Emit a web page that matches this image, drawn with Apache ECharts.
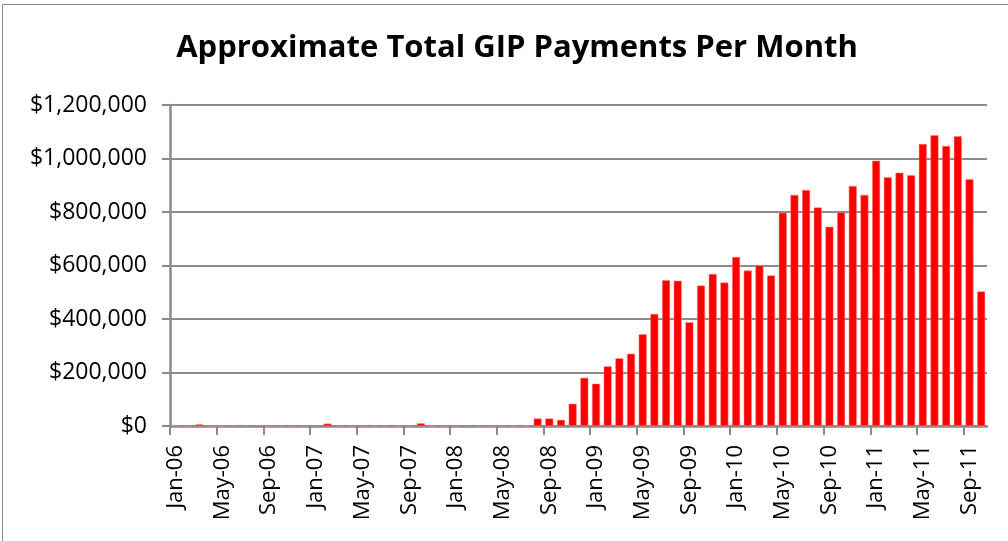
<!DOCTYPE html>
<html>
<head>
<meta charset="utf-8">
<script src="https://cdn.jsdelivr.net/npm/echarts@6/dist/echarts.min.js"></script>
<style>
html,body{margin:0;padding:0;background:#fff;}
#frame{position:absolute;left:2px;top:4px;width:1020px;height:560px;border:1.5px solid #8a8a8a;box-sizing:border-box;}
#chart{position:absolute;left:0;top:0;width:1008px;height:541px;}
</style>
</head>
<body>
<div id="frame"></div>
<div id="chart"></div>
<script>
const titleText = 'Approximate Total GIP Payments Per Month';
const months = [
 'Jan-06','Feb-06','Mar-06','Apr-06','May-06','Jun-06','Jul-06','Aug-06','Sep-06','Oct-06','Nov-06','Dec-06',
 'Jan-07','Feb-07','Mar-07','Apr-07','May-07','Jun-07','Jul-07','Aug-07','Sep-07','Oct-07','Nov-07','Dec-07',
 'Jan-08','Feb-08','Mar-08','Apr-08','May-08','Jun-08','Jul-08','Aug-08','Sep-08','Oct-08','Nov-08','Dec-08',
 'Jan-09','Feb-09','Mar-09','Apr-09','May-09','Jun-09','Jul-09','Aug-09','Sep-09','Oct-09','Nov-09','Dec-09',
 'Jan-10','Feb-10','Mar-10','Apr-10','May-10','Jun-10','Jul-10','Aug-10','Sep-10','Oct-10','Nov-10','Dec-10',
 'Jan-11','Feb-11','Mar-11','Apr-11','May-11','Jun-11','Jul-11','Aug-11','Sep-11','Oct-11'
];
const payments = [
 0,0,6000,0,0,3000,3000,3000,0,0,0,0,
 3000,9000,0,0,0,0,0,0,0,10000,0,0,
 0,3000,0,0,0,0,0,28000,28000,23000,83000,180000,
 158000,223000,253000,270000,343000,419000,545000,543000,388000,525000,568000,536000,
 632000,581000,600000,563000,797000,864000,882000,817000,745000,799000,897000,864000,
 992000,930000,947000,937000,1054000,1087000,1047000,1083000,922000,503000
];
const yTicks = { min: 0, max: 1200000, step: 200000 };
const labelEvery = 4;
const tickPositions = months.map((m, i) => i).filter(i => i % labelEvery === 0);

const chart = echarts.init(document.getElementById('chart'), null, {renderer:'canvas'});
const font = '"Open Sans", "Noto Sans", sans-serif';
chart.setOption({
  animation: false,
  backgroundColor: 'transparent',
  title: {
    text: titleText, left: 512, top: 28, textAlign: 'center',
    textStyle: { fontFamily: font, fontWeight: 'bold', fontSize: 31, color: '#000' }
  },
  grid: { left: 170, right: 21, top: 105, bottom: 115, containLabel: false },
  xAxis: [
    {
      type: 'category', data: months, boundaryGap: true,
      axisLine: { lineStyle: { color: '#8a8a8a', width: 2.5 } },
      axisTick: { show: false },
      axisLabel: { interval: labelEvery - 1, rotate: 90, margin: 19, fontFamily: font, fontSize: 22, color: '#000' },
      splitLine: { show: false }
    },
    {
      type: 'value', position: 'bottom', min: 0, max: months.length, interval: labelEvery,
      axisLine: { show: false }, splitLine: { show: false }, axisLabel: { show: false },
      axisTick: { show: true, length: 9, customValues: tickPositions, lineStyle: { color: '#8a8a8a', width: 2 } }
    }
  ],
  yAxis: {
    type: 'value', min: yTicks.min, max: yTicks.max, interval: yTicks.step,
    axisLine: { show: true, lineStyle: { color: '#8a8a8a', width: 2.5 } },
    axisTick: { show: true, length: 8, lineStyle: { color: '#8a8a8a', width: 2 } },
    splitLine: { show: true, lineStyle: { color: '#8c8c8c', width: 2 } },
    axisLabel: {
      margin: 23, fontFamily: font, fontSize: 23, color: '#000',
      formatter: (v) => '$' + v.toLocaleString('en-US')
    }
  },
  series: [{
    type: 'bar', xAxisIndex: 0, data: payments, barWidth: '68%',
    itemStyle: { color: '#ff0000', borderColor: '#ff8080', borderWidth: 0.5 }
  }]
});
</script>
</body>
</html>
